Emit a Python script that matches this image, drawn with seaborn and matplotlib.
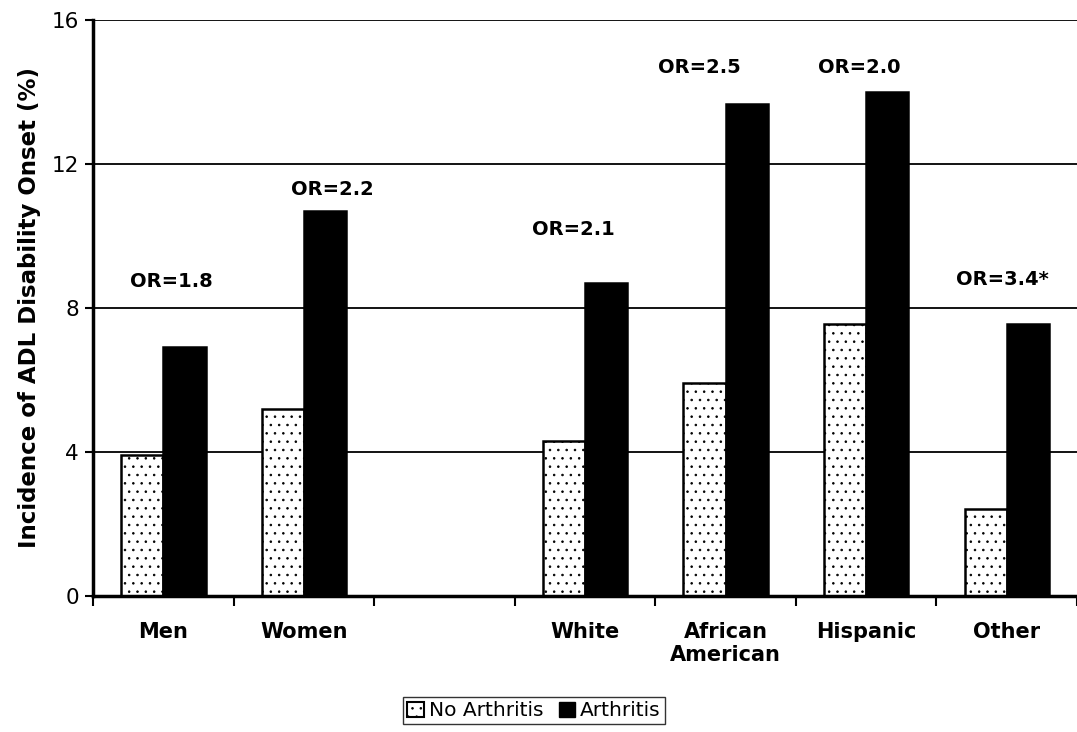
import numpy as np
import pandas as pd
import seaborn as sns
import matplotlib.pyplot as plt
from matplotlib.patches import Patch

# data
categories = ["Men", "Women", " ", "White", "African\nAmerican", "Hispanic", "Other"]
groups = ["Men", "Women", "White", "African\nAmerican", "Hispanic", "Other"]
no_arthritis = [3.9, 5.2, 4.3, 5.9, 7.55, 2.4]
arthritis = [6.9, 10.7, 8.7, 13.65, 14.0, 7.55]
or_labels = ["OR=1.8", "OR=2.2", "OR=2.1", "OR=2.5", "OR=2.0", "OR=3.4*"]

# where the OR text sits (category index offset, height)
or_x_shift = [0.06, 0.2, -0.08, -0.19, -0.05, -0.03]
or_y = [8.72, 11.28, 10.17, 14.67, 14.67, 8.8]

df = pd.DataFrame({
    "Group": groups * 2,
    "Incidence": no_arthritis + arthritis,
    "Status": ["No Arthritis"] * len(groups) + ["Arthritis"] * len(groups),
})

sns.set_style("white")
plt.rcParams['font.family'] = ['DejaVu Sans']
plt.rcParams['text.color'] = 'black'
plt.rcParams['xtick.color'] = 'black'
plt.rcParams['ytick.color'] = 'black'
plt.rcParams['axes.labelcolor'] = 'black'
plt.rcParams['hatch.linewidth'] = 0.6

fig = plt.figure(figsize=(10.77, 7.32), dpi=100)
ax = fig.add_axes([0.0864, 0.186, 0.9136, 0.787])

sns.barplot(data=df, x="Group", y="Incidence", hue="Status", order=categories,
            hue_order=["No Arthritis", "Arthritis"],
            palette={"No Arthritis": "white", "Arthritis": "black"},
            width=0.6, edgecolor="black", linewidth=1.8, legend=False, ax=ax)

for bar in ax.containers[0]:
    bar.set_hatch("..")

ax.set_ylim(0, 16)
ax.set_xlim(-0.5, 6.5)
ax.set_yticks([0, 4, 8, 12, 16])
ax.set_yticklabels(["0", "4", "8", "12", "16"], fontsize=15.5)
for y in [4, 8, 12, 16]:
    ax.axhline(y, color="black", lw=1.3, zorder=0)

# category boundary ticks, labels at centres
ax.set_xticks(np.arange(-0.5, 7, 1))
ax.set_xticklabels([""] * 8)
ax.set_xticks(np.arange(7), minor=True)
ax.set_xticklabels(categories, minor=True, fontsize=15, fontweight="bold")
ax.tick_params(axis="x", which="major", direction="out", length=7, width=1.5, bottom=True)
ax.tick_params(axis="x", which="minor", length=0, pad=19)
ax.tick_params(axis="y", direction="out", length=6, width=1.5, left=True, pad=4)
ax.set_xlabel("")
ax.set_ylabel("Incidence of ADL Disability Onset (%)", fontsize=16.5, fontweight="bold", labelpad=8)

for s in ["top", "right"]:
    ax.spines[s].set_visible(False)
ax.spines["left"].set_linewidth(2.5)
ax.spines["bottom"].set_linewidth(2.5)
ax.spines["left"].set_color("black")
ax.spines["bottom"].set_color("black")

cat_pos = [categories.index(g) for g in groups]
for p, lab, dx, y in zip(cat_pos, or_labels, or_x_shift, or_y):
    ax.text(p + dx, y, lab, ha="center", va="center", fontsize=14, fontweight="bold")

handles = [Patch(facecolor="white", edgecolor="black", hatch="..", lw=1.5),
           Patch(facecolor="black", edgecolor="black")]
fig.legend(handles, ["No Arthritis", "Arthritis"], loc="center", bbox_to_anchor=(0.496, 0.029),
           ncol=2, fontsize=14.5, frameon=True, fancybox=False, edgecolor="black",
           handlelength=0.8, handleheight=0.8, handletextpad=0.25, columnspacing=0.8,
           borderpad=0.2, borderaxespad=0)

fig.savefig("out.png", dpi=100)
